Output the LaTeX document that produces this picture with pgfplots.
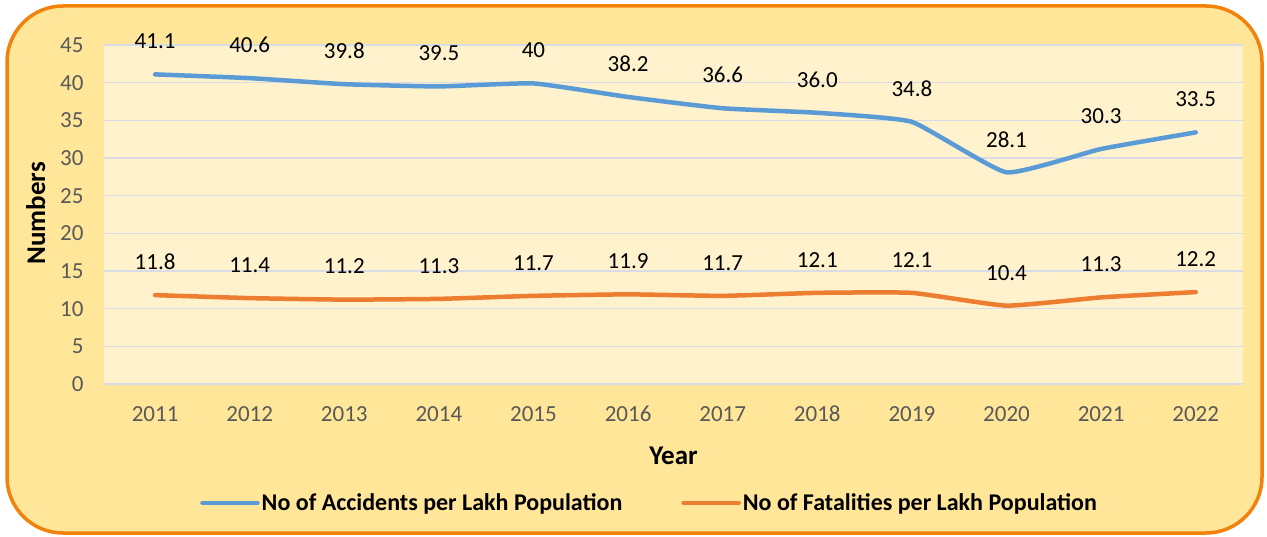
\documentclass[border=0pt]{standalone}
\usepackage{pgfplots}
\pgfplotsset{compat=1.18}
\usepackage{pgfplotstable}
\usepackage{fontspec}
\setmainfont{Carlito}
\definecolor{outerbg}{HTML}{FFE699}
\definecolor{outerborder}{HTML}{F2820C}
\definecolor{plotbg}{HTML}{FFF2CC}
\definecolor{gridc}{HTML}{D9DCE6}
\definecolor{tickc}{HTML}{595959}
\definecolor{accblue}{HTML}{5B9BD5}
\definecolor{fatorange}{HTML}{ED7D31}

\pgfplotstableread{
x y lab
2011 41.1 41.1
2012 40.6 40.6
2013 39.8 39.8
2014 39.5 39.5
2015 39.9 40
2016 38.1 38.2
2017 36.6 36.6
2018 36.0 36.0
2019 34.8 34.8
2020 28.1 28.1
2021 31.2 30.3
2022 33.4 33.5
}\accidents

\pgfplotstableread{
x y lab
2011 11.8 11.8
2012 11.4 11.4
2013 11.2 11.2
2014 11.3 11.3
2015 11.7 11.7
2016 11.9 11.9
2017 11.7 11.7
2018 12.1 12.1
2019 12.1 12.1
2020 10.4 10.4
2021 11.5 11.3
2022 12.2 12.2
}\fatalities

\begin{document}
\begin{tikzpicture}[x=1pt,y=1pt]
\useasboundingbox (0,0) rectangle (1267,536);
\draw[fill=outerbg, draw=outerborder, line width=3.5pt, rounded corners=56pt] (7,3) rectangle (1262,530);
\begin{axis}[
  at={(104pt,152pt)}, anchor=south west,
  scale only axis, width=1139pt, height=339pt,
  xmin=2010.46, xmax=2022.5, ymin=0, ymax=45,
  xtick=data, ytick={0,5,...,45},
  /pgf/number format/1000 sep={},
  /pgf/number format/assume math mode=true,
  major tick length=0,
  axis line style={draw=none},
  axis background/.style={fill=plotbg},
  ymajorgrids, grid style={gridc, line width=1.6pt},
  tick label style={font=\fontsize{23}{27}\selectfont, text=tickc},
  yticklabel style={xshift=-17pt},
  xticklabel style={yshift=-18pt, text height=16pt, text depth=0pt},
  xlabel={Year},
  ylabel={Numbers},
  label style={font=\fontsize{27}{31}\selectfont\bfseries},
  xlabel style={at={(axis description cs:0.5,-0.212)}, anchor=center},
  ylabel style={at={(axis description cs:-0.060,0.504)}, anchor=center, rotate=0},
  nodes near coords={\pgfplotspointmeta},
  point meta=explicit symbolic,
  every node near coord/.append style={font=\fontsize{23}{27}\selectfont, text=black, anchor=center, yshift=33pt},
  legend columns=2,
  legend style={draw=none, fill=none, at={(axis description cs:0.479,-0.351)}, anchor=center,
    font=\fontsize{24}{28}\selectfont\bfseries,
    /tikz/every even column/.append style={column sep=57pt},
    inner sep=0pt},
  legend image code/.code={\draw[#1, line width=4.5pt] (0pt,0pt) -- (55pt,0pt);},
  clip=false,
]
\addplot[accblue, line width=4.5pt, smooth, tension=0.25, line cap=round] table[x=x, y=y, meta=lab] {\accidents};
\addlegendentry{No of Accidents per Lakh Population}
\addplot[fatorange, line width=4.5pt, smooth, tension=0.25, line cap=round] table[x=x, y=y, meta=lab] {\fatalities};
\addlegendentry{No of Fatalities per Lakh Population}
\end{axis}
\end{tikzpicture}
\end{document}
